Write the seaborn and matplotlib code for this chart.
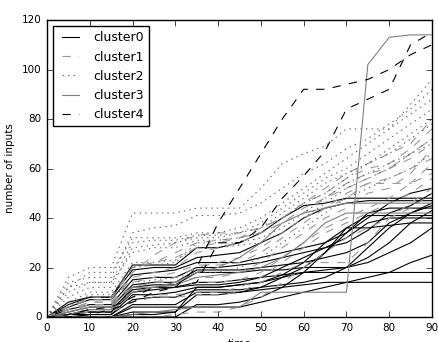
"""Cumulative inputs over time, one line per run, grouped by cluster."""

import matplotlib

matplotlib.use("Agg")
import matplotlib.pyplot as plt
import pandas as pd
import seaborn as sns

time = [0, 5, 10, 15, 20, 25, 30, 35, 40, 45, 50, 55, 60, 65, 70, 75, 80, 85, 90]

cluster0 = [
    [0, 6, 8, 8, 21, 21, 21, 28, 28, 30, 34, 40, 45, 46, 48, 48, 48, 48, 48],
    [0, 5, 8, 8, 19, 20, 20, 24, 25, 26, 30, 34, 40, 44, 46, 47, 47, 47, 47],
    [0, 4, 7, 7, 17, 18, 19, 22, 22, 22, 24, 26, 28, 30, 34, 40, 46, 50, 52],
    [0, 3, 5, 5, 15, 16, 16, 20, 20, 21, 22, 24, 26, 28, 30, 35, 42, 45, 50],
    [0, 2, 4, 4, 13, 14, 14, 19, 19, 19, 20, 21, 22, 24, 26, 30, 38, 42, 45],
    [0, 1, 2, 2, 12, 13, 13, 18, 18, 18, 19, 19, 20, 20, 20, 24, 30, 38, 43],
    [0, 1, 2, 2, 10, 11, 12, 13, 13, 14, 16, 20, 24, 28, 32, 38, 40, 40, 40],
    [0, 0, 1, 1, 9, 9, 10, 12, 12, 13, 14, 17, 22, 30, 36, 36, 37, 38, 38],
    [0, 1, 1, 1, 7, 8, 8, 11, 11, 11, 12, 13, 14, 16, 20, 22, 26, 30, 36],
    [0, 0, 0, 0, 5, 5, 5, 10, 10, 10, 12, 16, 18, 18, 18, 18, 18, 18, 18],
    [0, 0, 0, 0, 4, 4, 4, 4, 4, 4, 6, 8, 10, 12, 14, 16, 18, 22, 25],
    [0, 0, 0, 0, 2, 2, 2, 9, 9, 10, 11, 12, 13, 14, 14, 14, 14, 14, 14],
    [0, 0, 0, 0, 1, 1, 2, 12, 12, 13, 14, 16, 20, 26, 34, 42, 44, 44, 44],
    [0, 0, 0, 0, 0, 0, 0, 5, 5, 6, 8, 12, 18, 26, 36, 41, 41, 41, 41],
    [0, 1, 3, 3, 11, 12, 12, 14, 14, 15, 16, 17, 18, 19, 20, 28, 36, 42, 46],
]

cluster1 = [
    [0, 2, 4, 4, 12, 14, 16, 20, 22, 24, 28, 34, 40, 44, 48, 54, 56, 60, 64],
    [0, 3, 6, 6, 16, 18, 20, 26, 28, 30, 34, 38, 44, 48, 52, 56, 60, 66, 72],
    [0, 4, 7, 7, 20, 22, 24, 28, 30, 32, 36, 40, 46, 50, 56, 60, 62, 68, 76],
    [0, 2, 5, 5, 10, 12, 12, 14, 14, 15, 18, 24, 30, 36, 40, 44, 48, 54, 58],
    [0, 1, 3, 3, 8, 9, 9, 10, 10, 12, 16, 22, 28, 34, 38, 42, 46, 50, 56],
    [0, 3, 5, 5, 18, 25, 30, 33, 34, 34, 36, 40, 46, 52, 58, 62, 66, 70, 80],
    [0, 1, 2, 2, 6, 8, 8, 9, 9, 10, 14, 18, 22, 22, 22, 30, 40, 46, 52],
    [0, 0, 0, 0, 0, 0, 1, 2, 2, 4, 8, 14, 20, 26, 32, 36, 40, 44, 50],
    [0, 2, 4, 4, 14, 16, 18, 21, 21, 22, 26, 32, 38, 44, 50, 54, 54, 54, 62],
    [0, 4, 8, 8, 20, 22, 26, 30, 31, 32, 34, 38, 42, 48, 54, 58, 60, 64, 70],
    [0, 3, 6, 6, 12, 14, 14, 16, 16, 18, 22, 28, 34, 40, 44, 50, 52, 58, 68],
]

cluster2 = [
    [0, 16, 20, 20, 42, 42, 42, 44, 44, 44, 52, 62, 66, 69, 76, 76, 76, 86, 96],
    [0, 14, 16, 16, 34, 36, 37, 41, 41, 42, 46, 52, 58, 62, 68, 72, 78, 84, 92],
    [0, 12, 18, 18, 32, 32, 32, 34, 34, 36, 40, 46, 52, 58, 64, 70, 76, 82, 88],
    [0, 10, 14, 14, 30, 31, 31, 33, 33, 34, 38, 44, 50, 56, 60, 66, 72, 78, 84],
    [0, 8, 12, 12, 28, 29, 30, 32, 32, 34, 36, 42, 48, 54, 58, 62, 68, 74, 80],
    [0, 6, 10, 10, 22, 22, 23, 28, 28, 29, 30, 34, 40, 46, 52, 56, 60, 66, 72],
    [0, 5, 9, 9, 20, 21, 22, 30, 30, 30, 32, 36, 42, 48, 54, 58, 62, 66, 70],
    [0, 4, 8, 8, 14, 15, 16, 18, 18, 20, 24, 30, 36, 42, 48, 52, 56, 60, 66],
    [0, 12, 14, 14, 26, 28, 28, 31, 31, 32, 34, 40, 46, 50, 56, 62, 66, 72, 78],
]

cluster3 = [
    [0, 0, 0, 0, 1, 2, 3, 4, 4, 4, 10, 10, 10, 10, 10, 102, 113, 114, 114],
    [0, 1, 3, 3, 10, 12, 14, 18, 20, 24, 30, 38, 42, 44, 46, 46, 46, 46, 46],
    [0, 2, 4, 4, 12, 12, 13, 16, 17, 18, 20, 24, 30, 38, 42, 42, 42, 42, 42],
]

cluster4 = [
    [0, 1, 3, 4, 8, 12, 12, 20, 38, 52, 66, 80, 92, 92, 94, 96, 100, 106, 110],
    [0, 0, 1, 3, 6, 10, 12, 14, 30, 30, 36, 48, 57, 67, 84, 88, 92, 110, 115],
]

clusters = {
    "cluster0": cluster0,
    "cluster1": cluster1,
    "cluster2": cluster2,
    "cluster3": cluster3,
    "cluster4": cluster4,
}

rows = []
for name, runs in clusters.items():
    for i, run in enumerate(runs):
        for t, v in zip(time, run):
            rows.append({"time": t, "inputs": v, "cluster": name, "run": f"{name}_{i}"})
df = pd.DataFrame(rows)

plt.style.use("classic")
plt.rcParams["font.size"] = 7.5
plt.rcParams["legend.fontsize"] = 9

palette = {
    "cluster0": "black",
    "cluster1": "0.6",
    "cluster2": "0.4",
    "cluster3": "0.5",
    "cluster4": "black",
}
dashes = {
    "cluster0": "",
    "cluster1": (6, 6),
    "cluster2": (1, 3),
    "cluster3": "",
    "cluster4": (6, 6),
}

fig = plt.figure(figsize=(4.38, 3.42), dpi=100)
ax = fig.add_axes([0.1073, 0.0731, 0.879, 0.8684])
sns.lineplot(
    data=df, x="time", y="inputs", hue="cluster", style="cluster",
    units="run", estimator=None, palette=palette, dashes=dashes,
    linewidth=0.8, ax=ax,
)

leg = ax.get_legend()
handles = leg.legend_handles
labels = [t.get_text() for t in leg.get_texts()]
ax.legend(handles, labels, loc="upper left")

ax.set_xlim(0, 90)
ax.set_ylim(0, 120)
ax.set_xlabel("time")
ax.set_ylabel("number of inputs")

fig.savefig("out.png", dpi=100)
